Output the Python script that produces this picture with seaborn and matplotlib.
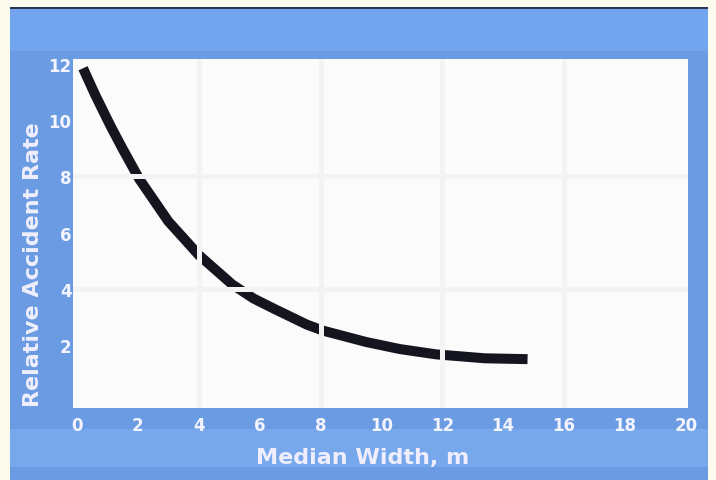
import matplotlib
matplotlib.use("Agg")
import matplotlib.pyplot as plt
import matplotlib.ticker as mticker
from matplotlib.patches import Rectangle
import seaborn as sns
import pandas as pd

# curve
median_width = [0.2, 0.6, 1.1, 1.5, 2.05, 3.0, 4.0, 5.1, 5.8, 6.5, 7.55, 8.1, 9.5, 10.6, 11.8, 13.4, 14.8]
accident_rate = [11.85, 10.9, 9.8, 8.98, 7.9, 6.4, 5.2, 4.15, 3.65, 3.27, 2.72, 2.5, 2.1, 1.85, 1.66, 1.52, 1.49]

x_ticks = [0, 2, 4, 6, 8, 10, 12, 14, 16, 18, 20]
y_ticks = [2, 4, 6, 8, 10, 12]
x_grid = [4, 8, 12, 16]
y_grid = [4, 8]

df = pd.DataFrame({"width": median_width, "rate": accident_rate})

W, H = 716, 481
fig = plt.figure(figsize=(W / 100, H / 100), dpi=100)
fig.patch.set_facecolor("#fcfcee")

# blue frame around the chart
blue = "#6b9be2"
frame = [
    ((10, 0), 698, 473, blue),
    ((10, H - 52), 698, 44, "#73a5ee"),
    ((10, H - 468), 698, 38, "#78a8ec"),
    ((10, 471), 698, 2.5, "#2b3652"),
]
for (x0, y0), w, h, c in frame:
    fig.patches.append(Rectangle((x0 / W, y0 / H), w / W, h / H, transform=fig.transFigure,
                                 facecolor=c, edgecolor="none", zorder=-5))

ax = fig.add_axes([73 / W, 1 - 409 / H, 615 / W, 349 / H])
ax.set_zorder(1)
ax.set_facecolor("#fbfbfb")

sns.lineplot(data=df, x="width", y="rate", ax=ax, color="#151520",
             linewidth=7.2, solid_capstyle="butt", zorder=2)

ax.set_xlim(-0.13, 20.07)
ax.set_ylim(-0.25, 12.18)
ax.set_xticks(x_ticks)
ax.set_yticks(y_ticks)
ax.xaxis.set_minor_locator(mticker.FixedLocator(x_grid))
ax.yaxis.set_minor_locator(mticker.FixedLocator(y_grid))
ax.xaxis.remove_overlapping_locs = False
ax.yaxis.remove_overlapping_locs = False
ax.set_axisbelow(False)
ax.grid(False, which="major")
ax.grid(True, which="minor", color="#f3f3f3", linewidth=3.6, zorder=3)

ax.tick_params(which="both", length=0)
ax.tick_params(axis="x", pad=6, labelsize=12, labelcolor="#f4f4ff")
ax.tick_params(axis="y", pad=1, labelsize=12, labelcolor="#f4f4ff")
for lab in ax.get_xticklabels() + ax.get_yticklabels():
    lab.set_fontweight("bold")

for s in ax.spines.values():
    s.set_visible(False)

ax.set_xlabel("")
ax.set_ylabel("")
fig.text(363 / W, 1 - 458 / H, "Median Width, m", ha="center", va="center",
         fontsize=16, fontweight="bold", color="#f0eefc")
fig.text(33 / W, 1 - 265 / H, "Relative Accident Rate", ha="center", va="center",
         rotation=90, fontsize=16, fontweight="bold", color="#f0eefc")

fig.savefig("out.png", dpi=100, facecolor=fig.get_facecolor())
